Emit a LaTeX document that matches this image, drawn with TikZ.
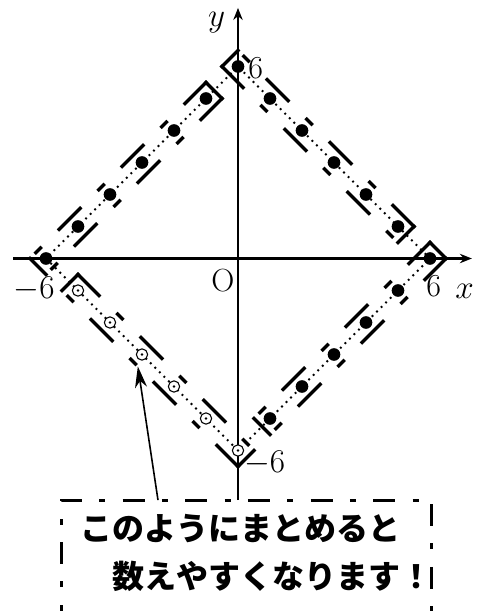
\documentclass[tikz,border=0pt]{standalone}
\usepackage{fontspec}
\newfontfamily\jpfont{Noto Sans CJK JP}
\usetikzlibrary{arrows.meta}

\begin{document}
\begin{tikzpicture}[x=24pt, y=24pt,
  axis/.style={line width=1.7pt, -{Stealth[length=9pt,width=7pt]}},
  grpline/.style={line width=2.5pt, line cap=rect, dash pattern=on 22.25pt off 19.75pt on 5pt off 19.75pt},
  diagline/.style={line width=2pt, line cap=round, dash pattern=on 0pt off 4.8pt},
  pt/.style={circle, fill, inner sep=0pt, minimum size=9.5pt},
  opt/.style={circle, draw, fill=white, line width=0.8pt, inner sep=0pt, minimum size=8.5pt},
  lbl/.style={font=\fontsize{24}{28}\selectfont, inner sep=0pt},
  note/.style={font=\fontsize{24}{30}\selectfont\jpfont\bfseries, inner sep=0pt, anchor=base west},
  notebox/.style={line width=2.2pt, dash pattern=on 16.5pt off 13pt on 4.5pt off 13pt}]
  \useasboundingbox (-7.4375,-11.0156) rectangle (7.4375,8.0781);

  % axes
  \draw[axis] (-7.03,0) -- (7.31,0);
  \draw[axis] (0,-7.55) -- (0,7.83);

  % lattice points on |x|+|y|=6
  \draw[diagline] (6,0) -- (0,6) -- (-6,0) -- (0,-6) -- cycle;

  % groups of six points
  \draw[grpline] (5.5,1) -- (0,6.5);
  \draw[grpline] (0,6.5) -- (-0.5,6);
  \draw[grpline] (-0.5,6) -- (5,0.5);
  \draw[grpline] (5,0.5) -- (5.5,1);
  \draw[grpline] (-1,5.5) -- (-6.5,0);
  \draw[grpline] (-6.5,0) -- (-6,-0.5);
  \draw[grpline] (-0.5,5) -- (-6,-0.5);
  \draw[grpline] (-0.5,5) -- (-1,5.5);
  \draw[grpline] (6,0.5) -- (0.5,-5);
  \draw[grpline] (0.5,-5) -- (1,-5.5);
  \draw[grpline] (6.5,0) -- (1,-5.5);
  \draw[grpline] (6,0.5) -- (6.5,0);
  \draw[grpline] (-5,-0.5) -- (0.5,-6);
  \draw[grpline] (0.5,-6) -- (0,-6.5);
  \draw[grpline] (0,-6.5) -- (-5.5,-1);
  \draw[grpline] (-5.5,-1) -- (-5,-0.5);

  \foreach \i in {0,...,5} {
    \node[pt] (ur\i) at (\i,6-\i) {};
    \node[pt] (ul\i) at (-6+\i,\i) {};
    \node[pt] (lr\i) at (6-\i,-\i) {};
    \node[opt] (ll\i) at (-\i,-6+\i) {};
    \fill (ll\i) circle (1.1pt);
  }

  % labels
  \node[lbl] (ylab) at (-0.67,7.36) {$y$};
  \node[lbl] (xlab) at (7.08,-1.02) {$x$};
  \node[lbl] (orig) at (-0.47,-0.69) {O};
  \node[lbl] (top6) at (0.55,5.95) {6};
  \node[lbl] (rt6) at (6.12,-0.86) {6};
  \node[lbl] (lf6) at (-6.375,-0.95) {$-6$};
  \node[lbl] (bt6) at (0.83,-6.39) {$-6$};

  % note
  \draw[notebox] (-5.53,-11.5) -- (-5.53,-7.55) -- (6.06,-7.55) -- (6.06,-11.5);
  \node[note] (line1) at (-4.94,-8.80) {このようにまとめると};
  \node[note] (line2) at (-3.94,-10.32) {数えやすくなります！};
  \coordinate (tail) at (-2.5,-7.55);
  \coordinate (tip) at (-3.13,-3.37);
  \draw[line width=1.2pt, -{Stealth[length=16pt,width=9pt,inset=5pt]}] (tail) -- (tip);
\end{tikzpicture}
\end{document}
